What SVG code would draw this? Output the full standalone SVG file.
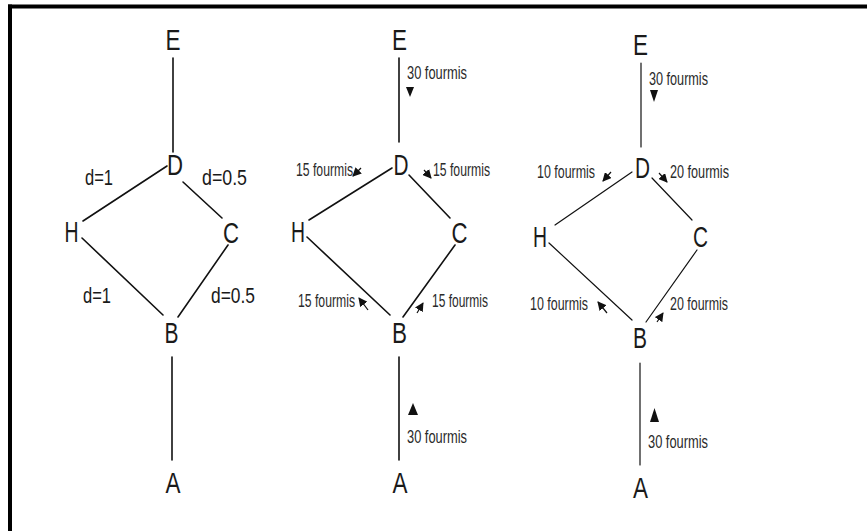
<svg xmlns="http://www.w3.org/2000/svg" width="867" height="531" viewBox="0 0 867 531">
  <style>
    .edge { stroke: #111; stroke-width: 1.6; fill: none; stroke-linecap: round; }
    .thin { stroke-width: 1.2; }
    .flow { stroke: #111; stroke-width: 1.2; fill: none; marker-end: url(#head); }
    .node { font-family: "Liberation Sans", Arial, sans-serif; font-size: 30px; fill: #1a1a1a; text-anchor: middle; }
    .dist { font-family: "Liberation Sans", Arial, sans-serif; font-size: 22px; fill: #1a1a1a; }
    .ants { font-family: "Liberation Sans", Arial, sans-serif; font-size: 18px; fill: #2a2a2a; }
    .tri { fill: #111; }
  </style>
  <defs>
    <marker id="head" markerUnits="userSpaceOnUse" markerWidth="9" markerHeight="9" refX="8" refY="4.5" orient="auto">
      <path d="M0,0 L9,4.5 L0,9 Z" fill="#111"/>
    </marker>
  </defs>

  <rect width="867" height="531" fill="#fff"/>

  <!-- frame: top and left rules only -->
  <g id="frame">
    <rect x="8" y="4.5" width="859" height="4" fill="#000"/>
    <rect x="8" y="4.5" width="4" height="527" fill="#000"/>
  </g>

  <!-- connectors -->
  <g id="connectors">
    <!-- graph 1: distances -->
    <line class="edge" x1="173" y1="58" x2="173" y2="152"/>
    <line class="edge" x1="167" y1="166" x2="83" y2="221"/>
    <line class="edge" x1="183" y1="182" x2="222" y2="218"/>
    <line class="edge" x1="82" y1="238" x2="163" y2="315"/>
    <line class="edge" x1="228" y1="245" x2="178" y2="317"/>
    <line class="edge" x1="172" y1="357" x2="172" y2="460"/>

    <!-- graph 2: equal split -->
    <line class="edge" x1="399" y1="58" x2="399" y2="142"/>
    <line class="edge" x1="392" y1="168" x2="309" y2="220"/>
    <line class="edge" x1="409" y1="175" x2="450" y2="218"/>
    <line class="edge" x1="307" y1="237" x2="390" y2="315"/>
    <line class="edge" x1="455" y1="245" x2="403" y2="317"/>
    <line class="edge" x1="399" y1="357" x2="399" y2="460"/>

    <!-- graph 3: biased split -->
    <line class="edge thin" x1="641" y1="63" x2="641" y2="147"/>
    <line class="edge thin" x1="632" y1="172" x2="555" y2="225"/>
    <line class="edge thin" x1="652" y1="178" x2="692" y2="220"/>
    <line class="edge thin" x1="549" y1="243" x2="632" y2="320"/>
    <line class="edge thin" x1="697" y1="250" x2="646" y2="322"/>
    <line class="edge thin" x1="640" y1="363" x2="640" y2="465"/>

    <!-- flow direction marks -->
    <polygon class="tri" points="406,87 414,87 410,97"/>
    <polygon class="tri" points="408,415 418,415 413,403"/>
    <polygon class="tri" points="650,90 658,90 654,102"/>
    <polygon class="tri" points="650,422 659,422 654.5,408"/>

    <line class="flow" x1="361" y1="168" x2="353" y2="176"/>
    <line class="flow" x1="424" y1="170" x2="431" y2="178"/>
    <line class="flow" x1="368" y1="310" x2="359" y2="298"/>
    <line class="flow" x1="417" y1="313" x2="423" y2="303"/>

    <line class="flow" x1="611" y1="172" x2="603" y2="181"/>
    <line class="flow" x1="659" y1="173" x2="667" y2="182"/>
    <line class="flow" x1="607" y1="313" x2="598" y2="302"/>
    <line class="flow" x1="657" y1="322" x2="663" y2="313"/>
  </g>

  <!-- graph 1 nodes -->
  <g id="g1-E"><text class="node" x="173" y="50" textLength="15" lengthAdjust="spacingAndGlyphs">E</text></g>
  <g id="g1-D"><text class="node" x="175" y="175" textLength="16" lengthAdjust="spacingAndGlyphs">D</text></g>
  <g id="g1-H"><text class="node" x="71.5" y="242" textLength="14" lengthAdjust="spacingAndGlyphs">H</text></g>
  <g id="g1-C"><text class="node" x="231" y="243" textLength="16" lengthAdjust="spacingAndGlyphs">C</text></g>
  <g id="g1-B"><text class="node" x="171.5" y="343" textLength="14" lengthAdjust="spacingAndGlyphs">B</text></g>
  <g id="g1-A"><text class="node" x="173" y="493" textLength="15" lengthAdjust="spacingAndGlyphs">A</text></g>
  <g id="g1-labels">
    <text class="dist" x="85" y="185" textLength="28" lengthAdjust="spacingAndGlyphs">d=1</text>
    <text class="dist" x="202" y="185" textLength="45" lengthAdjust="spacingAndGlyphs">d=0.5</text>
    <text class="dist" x="83" y="303" textLength="28" lengthAdjust="spacingAndGlyphs">d=1</text>
    <text class="dist" x="211" y="303" textLength="44" lengthAdjust="spacingAndGlyphs">d=0.5</text>
  </g>

  <!-- graph 2 nodes -->
  <g id="g2-E"><text class="node" x="399.5" y="50" textLength="15" lengthAdjust="spacingAndGlyphs">E</text></g>
  <g id="g2-D"><text class="node" x="401" y="175" textLength="15" lengthAdjust="spacingAndGlyphs">D</text></g>
  <g id="g2-H"><text class="node" x="298" y="242" textLength="14" lengthAdjust="spacingAndGlyphs">H</text></g>
  <g id="g2-C"><text class="node" x="459.5" y="243" textLength="16" lengthAdjust="spacingAndGlyphs">C</text></g>
  <g id="g2-B"><text class="node" x="399.5" y="343" textLength="15" lengthAdjust="spacingAndGlyphs">B</text></g>
  <g id="g2-A"><text class="node" x="400" y="493" textLength="15" lengthAdjust="spacingAndGlyphs">A</text></g>
  <g id="g2-labels">
    <text class="ants" x="407" y="79" textLength="60" lengthAdjust="spacingAndGlyphs">30 fourmis</text>
    <text class="ants" x="296" y="176" textLength="57" lengthAdjust="spacingAndGlyphs">15 fourmis</text>
    <text class="ants" x="433" y="176" textLength="57" lengthAdjust="spacingAndGlyphs">15 fourmis</text>
    <text class="ants" x="298" y="307" textLength="57" lengthAdjust="spacingAndGlyphs">15 fourmis</text>
    <text class="ants" x="432" y="307" textLength="56" lengthAdjust="spacingAndGlyphs">15 fourmis</text>
    <text class="ants" x="407" y="443" textLength="60" lengthAdjust="spacingAndGlyphs">30 fourmis</text>
  </g>

  <!-- graph 3 nodes -->
  <g id="g3-E"><text class="node" x="640.5" y="55" textLength="15" lengthAdjust="spacingAndGlyphs">E</text></g>
  <g id="g3-D"><text class="node" x="642.5" y="178" textLength="15" lengthAdjust="spacingAndGlyphs">D</text></g>
  <g id="g3-H"><text class="node" x="540" y="247" textLength="14" lengthAdjust="spacingAndGlyphs">H</text></g>
  <g id="g3-C"><text class="node" x="700.5" y="247" textLength="15" lengthAdjust="spacingAndGlyphs">C</text></g>
  <g id="g3-B"><text class="node" x="640" y="348" textLength="14" lengthAdjust="spacingAndGlyphs">B</text></g>
  <g id="g3-A"><text class="node" x="640.5" y="498" textLength="15" lengthAdjust="spacingAndGlyphs">A</text></g>
  <g id="g3-labels">
    <text class="ants" x="649" y="85" textLength="59" lengthAdjust="spacingAndGlyphs">30 fourmis</text>
    <text class="ants" x="537" y="178" textLength="58" lengthAdjust="spacingAndGlyphs">10 fourmis</text>
    <text class="ants" x="670" y="178" textLength="59" lengthAdjust="spacingAndGlyphs">20 fourmis</text>
    <text class="ants" x="530" y="310" textLength="58" lengthAdjust="spacingAndGlyphs">10 fourmis</text>
    <text class="ants" x="670" y="310" textLength="58" lengthAdjust="spacingAndGlyphs">20 fourmis</text>
    <text class="ants" x="648" y="448" textLength="60" lengthAdjust="spacingAndGlyphs">30 fourmis</text>
  </g>
</svg>
